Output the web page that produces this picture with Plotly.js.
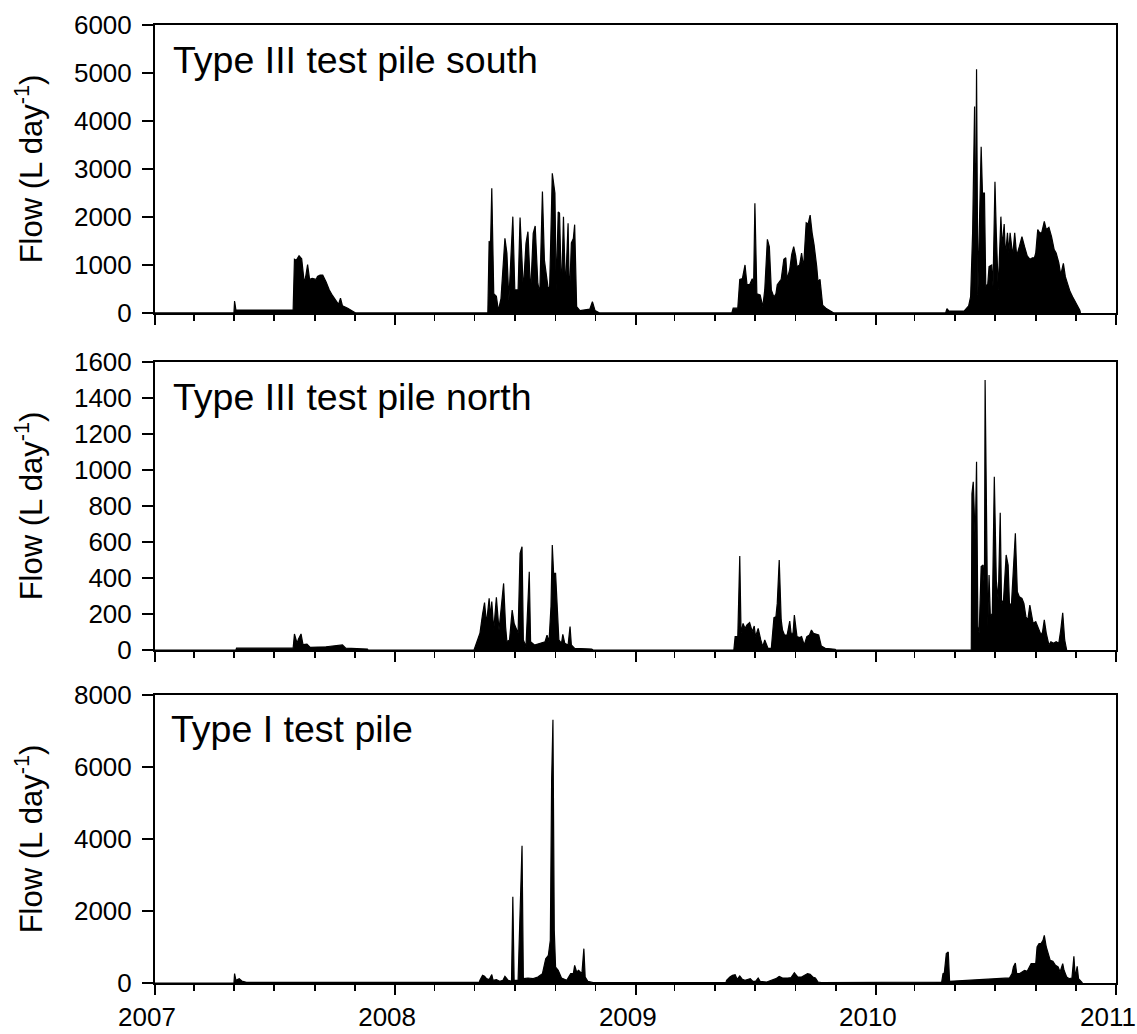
<!DOCTYPE html>
<html>
<head>
<meta charset="utf-8">
<script src="https://cdn.plot.ly/plotly-3.0.1.min.js"></script>
<style>html,body{margin:0;padding:0;background:#fff;}#chart{width:1137px;height:1034px;}</style>
</head>
<body>
<div id="chart"></div>
<script>
// ---------- Data ----------
const southDates = [
 '2007-01-01','2007-05-01','2007-05-02','2007-05-04','2007-07-30','2007-08-01','2007-08-04','2007-08-08','2007-08-12','2007-08-16',
 '2007-08-18','2007-08-21','2007-08-24','2007-08-28','2007-09-03','2007-09-05','2007-09-09','2007-09-13','2007-09-18','2007-09-23',
 '2007-09-28','2007-10-03','2007-10-07','2007-10-10','2007-10-13','2007-10-21','2007-10-30','2007-11-02',
 '2008-05-21','2008-05-23','2008-05-25','2008-05-27','2008-05-30','2008-06-03','2008-06-06','2008-06-10','2008-06-16','2008-06-19',
 '2008-06-22','2008-06-28','2008-07-01','2008-07-06','2008-07-09','2008-07-14','2008-07-18','2008-07-21','2008-07-25','2008-07-29',
 '2008-08-01','2008-08-05','2008-08-08','2008-08-12','2008-08-15','2008-08-21','2008-08-23','2008-08-27','2008-08-31','2008-09-02',
 '2008-09-05','2008-09-07','2008-09-10','2008-09-13','2008-09-16','2008-09-20','2008-09-22','2008-09-25','2008-09-28','2008-09-30',
 '2008-10-03','2008-10-08','2008-10-23','2008-10-27','2008-10-31','2008-11-07',
 '2009-05-27','2009-05-29','2009-06-05','2009-06-08','2009-06-12','2009-06-16','2009-06-19','2009-06-23','2009-06-27','2009-06-29',
 '2009-07-01','2009-07-04','2009-07-09','2009-07-13','2009-07-16','2009-07-20','2009-07-23','2009-07-26','2009-07-30','2009-08-02',
 '2009-08-04','2009-08-10','2009-08-14','2009-08-17','2009-08-19','2009-08-23','2009-08-26','2009-08-29','2009-09-01','2009-09-03',
 '2009-09-07','2009-09-10','2009-09-13','2009-09-17','2009-09-20','2009-09-23','2009-09-26','2009-09-29','2009-10-03','2009-10-05',
 '2009-10-08','2009-10-12','2009-10-17','2009-10-25','2009-10-29',
 '2010-04-17','2010-04-19','2010-04-22','2010-05-15','2010-05-22','2010-05-25','2010-05-28','2010-05-31','2010-06-01','2010-06-03',
 '2010-06-05','2010-06-07','2010-06-10','2010-06-12','2010-06-15','2010-06-17','2010-06-20','2010-06-22','2010-06-26','2010-06-28',
 '2010-07-01','2010-07-03','2010-07-06','2010-07-10','2010-07-12','2010-07-15','2010-07-17','2010-07-20','2010-07-22','2010-07-24',
 '2010-07-28','2010-07-31','2010-08-03','2010-08-07','2010-08-11','2010-08-15','2010-08-19','2010-08-23','2010-08-27','2010-08-30',
 '2010-09-01','2010-09-04','2010-09-07','2010-09-10','2010-09-14','2010-09-17','2010-09-21','2010-09-25','2010-09-29','2010-10-02',
 '2010-10-06','2010-10-09','2010-10-13','2010-10-16','2010-10-20','2010-10-23','2010-10-27','2010-11-02','2010-11-07','2010-11-08'
];
const southFlow = [
 0,0,250,60,60,1120,1100,1190,1130,620,
 750,1010,700,720,700,760,790,790,650,480,
 360,270,180,310,150,100,30,0,
 0,1500,1350,2597,400,350,50,300,1556,1243,
 270,2007,480,480,1990,480,1451,1694,410,1660,
 1812,620,410,2528,1100,480,550,2910,2500,480,
 2104,2083,410,2007,480,1868,270,1458,1550,1840,
 130,50,80,236,50,0,
 0,100,100,700,715,1000,590,590,715,520,
 2285,400,375,130,480,1535,1380,480,330,400,
 590,700,1120,1150,700,910,1220,1380,1190,965,
 1000,1250,945,1880,1855,2040,1670,1420,965,650,
 700,160,100,40,0,
 0,90,40,40,150,340,1670,4300,400,5076,
 375,1670,3465,2500,2500,555,600,965,1000,555,
 2736,1670,480,2007,1380,1855,1190,1670,1250,1670,
 1190,1670,1190,1380,1590,1380,1190,1120,1150,1150,
 1250,1736,1670,1670,1910,1736,1785,1590,1320,1250,
 1050,795,1035,757,555,450,340,200,60,0
];

const northDates = [
 '2007-01-01','2007-05-04','2007-05-05','2007-07-30','2007-08-01','2007-08-05','2007-08-07','2007-08-11','2007-08-14','2007-08-20',
 '2007-08-25','2007-09-18','2007-10-13','2007-10-18','2007-11-20','2007-11-21',
 '2008-04-30','2008-05-09','2008-05-13','2008-05-16','2008-05-19','2008-05-23','2008-05-25','2008-05-27','2008-05-30','2008-06-03',
 '2008-06-07','2008-06-11','2008-06-14','2008-06-17','2008-06-19','2008-06-23','2008-06-27','2008-06-30','2008-07-03','2008-07-06',
 '2008-07-09','2008-07-12','2008-07-14','2008-07-18','2008-07-23','2008-07-25','2008-07-31','2008-08-08','2008-08-16','2008-08-19',
 '2008-08-22','2008-08-25','2008-08-27','2008-08-29','2008-09-01','2008-09-03','2008-09-06','2008-09-10','2008-09-12','2008-09-15',
 '2008-09-20','2008-09-23','2008-09-25','2008-09-30','2008-10-26','2008-10-28',
 '2009-05-30','2009-06-01','2009-06-05','2009-06-08','2009-06-10','2009-06-13','2009-06-16','2009-06-19','2009-06-23','2009-06-27',
 '2009-06-30','2009-07-02','2009-07-06','2009-07-10','2009-07-13','2009-07-16','2009-07-21','2009-07-26','2009-07-30','2009-08-02',
 '2009-08-04','2009-08-07','2009-08-10','2009-08-12','2009-08-15','2009-08-19','2009-08-23','2009-08-25','2009-08-28','2009-08-30',
 '2009-09-03','2009-09-07','2009-09-10','2009-09-14','2009-09-18','2009-09-22','2009-09-25','2009-09-28','2009-10-02','2009-10-06',
 '2009-10-10','2009-10-16','2009-10-31','2009-11-01',
 '2010-05-26','2010-05-27','2010-05-29','2010-05-30','2010-06-01','2010-06-03','2010-06-05','2010-06-07','2010-06-10','2010-06-13',
 '2010-06-15','2010-06-16','2010-06-18','2010-06-20','2010-06-22','2010-06-24','2010-06-27','2010-06-30','2010-07-03','2010-07-06',
 '2010-07-09','2010-07-11','2010-07-14','2010-07-18','2010-07-21','2010-07-23','2010-07-26','2010-07-29','2010-08-01','2010-08-04',
 '2010-08-07','2010-08-11','2010-08-14','2010-08-17','2010-08-20','2010-08-23','2010-08-25','2010-08-28','2010-09-01','2010-09-04',
 '2010-09-08','2010-09-11','2010-09-14','2010-09-17','2010-09-21','2010-09-24','2010-09-28','2010-10-02','2010-10-06','2010-10-09',
 '2010-10-12','2010-10-15','2010-10-17','2010-10-18'
];
const northFlow = [
 0,0,10,10,89,37,60,89,30,33,
 15,18,28,10,5,0,
 0,93,200,263,148,287,185,269,111,293,
 111,241,370,130,46,56,222,148,115,93,
 537,574,56,19,435,46,28,37,46,83,
 46,241,583,426,426,278,56,37,87,37,
 28,130,28,9,5,0,
 0,74,74,522,93,148,120,139,152,102,
 133,74,120,56,19,56,9,9,180,185,
 259,500,167,111,83,83,161,93,93,194,
 74,69,74,28,74,83,111,93,89,83,
 22,9,4,0,
 0,870,935,787,611,1046,130,93,463,472,
 333,1500,703,130,417,185,204,963,389,278,
 763,259,278,528,472,259,250,444,648,324,
 296,287,259,185,167,250,204,148,157,130,
 93,93,167,93,28,46,37,46,37,111,
 207,56,4,0
];

const type1Dates = [
 '2007-01-01','2007-05-01','2007-05-02','2007-05-04','2007-05-09','2007-05-13','2007-05-20',
 '2008-05-08','2008-05-09','2008-05-13','2008-05-16','2008-05-19','2008-05-23','2008-05-27','2008-05-29','2008-06-03','2008-06-08',
 '2008-06-13','2008-06-16','2008-06-21','2008-06-26','2008-06-28','2008-06-30','2008-07-06','2008-07-12','2008-07-14','2008-07-21',
 '2008-07-29','2008-08-05','2008-08-12','2008-08-17','2008-08-21','2008-08-24','2008-08-26','2008-08-28','2008-08-30','2008-09-01',
 '2008-09-05','2008-09-10','2008-09-18','2008-09-24','2008-09-28','2008-09-30','2008-10-03','2008-10-06','2008-10-09','2008-10-11',
 '2008-10-14','2008-10-16','2008-10-20','2008-10-28',
 '2009-05-18','2009-05-19','2009-05-24','2009-05-28','2009-06-01','2009-06-04','2009-06-08','2009-06-12','2009-06-16','2009-06-21',
 '2009-06-24','2009-06-28','2009-07-02','2009-07-06','2009-07-09','2009-07-19','2009-07-27','2009-08-02','2009-08-07','2009-08-12',
 '2009-08-20','2009-08-25','2009-08-30','2009-09-04','2009-09-10','2009-09-15','2009-09-19','2009-09-23','2009-09-27','2009-10-01',
 '2009-10-05','2009-10-10',
 '2010-04-10','2010-04-11','2010-04-13','2010-04-15','2010-04-18','2010-04-21','2010-04-23','2010-07-23','2010-07-27','2010-07-29',
 '2010-08-01','2010-08-03','2010-08-07','2010-08-11','2010-08-15','2010-08-19','2010-08-23','2010-08-25','2010-08-28','2010-09-01',
 '2010-09-03','2010-09-06','2010-09-09','2010-09-12','2010-09-14','2010-09-17','2010-09-20','2010-09-23','2010-09-27','2010-10-01',
 '2010-10-05','2010-10-08','2010-10-12','2010-10-14','2010-10-18','2010-10-22','2010-10-26','2010-10-29','2010-10-31','2010-11-03',
 '2010-11-05','2010-11-09','2010-11-11'
];
const type1Flow = [
 0,0,260,75,120,55,20,
 20,75,213,185,120,93,232,75,93,46,
 75,185,75,46,2398,75,75,3815,120,139,
 120,167,260,676,768,1185,5630,7315,1463,444,
 352,139,75,260,260,491,306,352,306,260,
 954,167,46,10,
 10,75,167,213,232,102,194,102,75,102,
 120,46,46,139,46,28,93,120,185,139,
 139,148,287,167,167,213,260,241,167,139,
 28,10,
 10,28,260,278,815,861,46,140,260,444,
 556,260,260,306,352,324,463,537,537,537,
 1000,1093,1093,1185,1324,1000,815,630,602,491,
 444,306,537,352,167,120,139,740,167,463,
 120,28,0
];

const panelLabels = ['Type III test pile south', 'Type III test pile north', 'Type I test pile'];
const yRanges = [[0, 6000], [0, 1600], [0, 8000]];
const yTickSteps = [1000, 200, 2000];
const xRange = ['2007-01-01', '2011-01-01'];
const yTitle = 'Flow (L day<sup>-1</sup>)';

// ---------- Plot ----------
const FONT = 'Liberation Sans, Arial, Helvetica, sans-serif';
const series = [[southDates, southFlow], [northDates, northFlow], [type1Dates, type1Flow]];
const traces = series.map((s, i) => ({
  type: 'scatter', mode: 'lines', x: s[0], y: s[1],
  xaxis: i === 0 ? 'x' : 'x' + (i + 1), yaxis: i === 0 ? 'y' : 'y' + (i + 1),
  fill: 'tozeroy', fillcolor: '#000', line: {color: '#000', width: 1.2},
  hoverinfo: 'skip', showlegend: false
}));

const domains = [[0.6994, 1.0], [0.3476, 0.6482], [0.0, 0.3006]];
const layout = {
  width: 1137, height: 1034,
  margin: {l: 155, r: 21, t: 25, b: 51, pad: 0},
  paper_bgcolor: '#fff', plot_bgcolor: '#fff',
  font: {family: FONT, color: '#000', size: 26},
  showlegend: false,
  annotations: []
};
const labelPos = [[0.017, 0.878], [0.017, 0.878], [0.015, 0.882]];
for (let i = 0; i < 3; i++) {
  const sfx = i === 0 ? '' : String(i + 1);
  layout['xaxis' + sfx] = {
    type: 'date', range: xRange, anchor: 'y' + sfx,
    showgrid: false, zeroline: false,
    showline: true, linecolor: '#000', linewidth: 2, mirror: true,
    ticks: 'outside', ticklen: 10, tickwidth: 2, tickcolor: '#000',
    dtick: 'M12', tick0: '2007-01-01', tickformat: '%Y',
    showticklabels: i === 2, ticklabelshift: -8, ticklabelstandoff: 0,
    tickfont: {family: FONT, size: 26, color: '#000'},
    minor: {dtick: 'M2', tick0: '2007-01-01', ticks: 'outside', ticklen: 6, tickwidth: 1.5, tickcolor: '#000', showgrid: false}
  };
  layout['yaxis' + sfx] = {
    domain: domains[i], range: yRanges[i], anchor: 'x' + sfx,
    showgrid: false, zeroline: false,
    showline: true, linecolor: '#000', linewidth: 2, mirror: true,
    ticks: 'outside', ticklen: 11, tickwidth: 1.5, tickcolor: '#000',
    dtick: yTickSteps[i], tick0: 0, ticklabelstandoff: 5,
    tickfont: {family: FONT, size: 26, color: '#000'},
    automargin: false,
    title: {text: yTitle, font: {family: FONT, size: 31, color: '#000'}, standoff: 22}
  };
  layout.annotations.push({
    text: panelLabels[i], xref: 'x' + sfx + ' domain', yref: 'y' + sfx + ' domain',
    x: labelPos[i][0], y: labelPos[i][1], xanchor: 'left', yanchor: 'middle',
    showarrow: false, font: {family: FONT, size: 37.5, color: '#000'}
  });
}

Plotly.newPlot('chart', traces, layout, {staticPlot: true, displayModeBar: false});
</script>
</body>
</html>
